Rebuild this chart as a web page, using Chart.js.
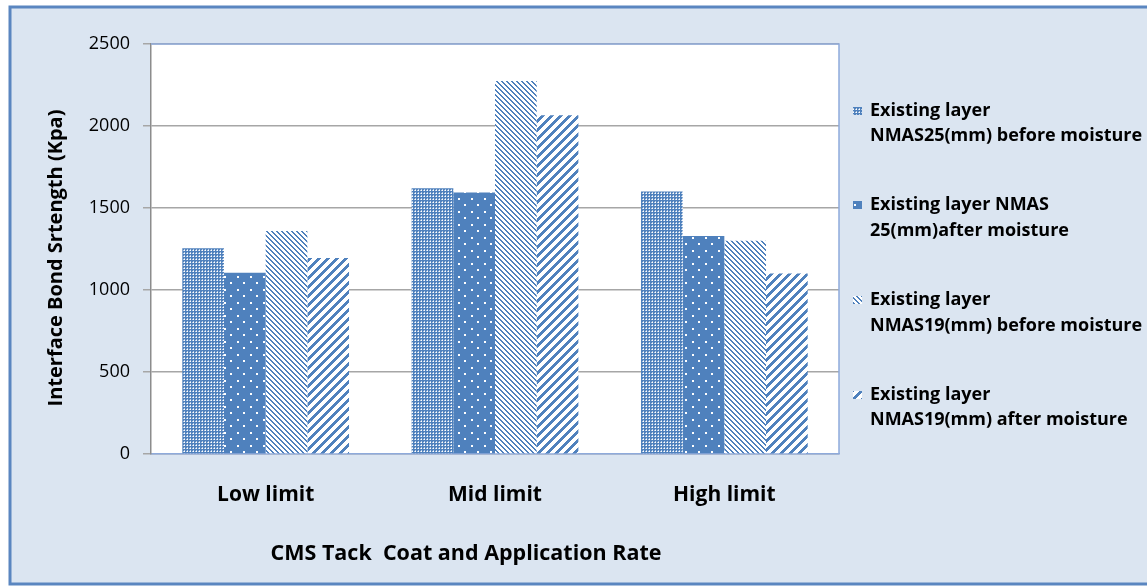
<!DOCTYPE html>
<html>
<head>
<meta charset="utf-8">
<script src="https://cdn.jsdelivr.net/npm/chart.js@4.4.0/dist/chart.umd.min.js"></script>
<style>
  html, body { margin: 0; padding: 0; background: #ffffff; }
  canvas { display: block; }
</style>
</head>
<body>
<canvas id="chart" width="1147" height="587"></canvas>
<script>
// ---- data ----
const categories = ['Low limit', 'Mid limit', 'High limit'];
const seriesNames = [
  ['Existing layer', 'NMAS25(mm) before moisture'],
  ['Existing layer NMAS', '25(mm)after moisture'],
  ['Existing layer', 'NMAS19(mm) before moisture'],
  ['Existing layer', 'NMAS19(mm) after moisture']
];
const nmas25Before = [1255, 1620, 1600];
const nmas25After  = [1105, 1595, 1330];
const nmas19Before = [1360, 2275, 1300];
const nmas19After  = [1195, 2065, 1100];
const yMin = 0, yMax = 2500, yStep = 500;
const yTitle = 'Interface Bond Srtength (Kpa)';
const xTitle = 'CMS Tack  Coat and Application Rate';

// ---- styling ----
const BLUE = '#4f81bd';
const FONT = '"Open Sans", Lato, sans-serif';

// Fill patterns for the four series
function makePattern(kind) {
  const c = document.createElement('canvas');
  const g = c.getContext('2d');
  if (kind === 'denseDots') {
    c.width = 3; c.height = 3;
    g.fillStyle = BLUE; g.fillRect(0, 0, 3, 3);
    g.fillStyle = '#ffffff';
    g.fillRect(1, 1, 1, 1);
    g.fillStyle = 'rgba(255,255,255,0.6)';
    g.fillRect(0, 1, 1, 1);
    g.fillRect(1, 0, 1, 1);
  } else if (kind === 'sparseDots') {
    c.width = 13; c.height = 13;
    g.fillStyle = BLUE; g.fillRect(0, 0, 13, 13);
    g.fillStyle = '#ffffff';
    g.fillRect(3, 3, 2, 2);
    g.fillRect(9, 9, 2, 2);
  } else if (kind === 'thinDown') {
    c.width = 5; c.height = 5;
    g.fillStyle = '#ffffff'; g.fillRect(0, 0, 5, 5);
    g.fillStyle = BLUE;
    for (let y = 0; y < 5; y++) {
      for (let k = 0; k < 2; k++) g.fillRect((y + k) % 5, y, 1, 1);
    }
  } else {
    c.width = 9; c.height = 9;
    g.fillStyle = '#ffffff'; g.fillRect(0, 0, 9, 9);
    g.fillStyle = BLUE;
    for (let y = 0; y < 9; y++) {
      for (let k = 0; k < 4; k++) g.fillRect((8 - y + k) % 9, y, 1, 1);
    }
  }
  const ctx = document.getElementById('chart').getContext('2d');
  return ctx.createPattern(c, 'repeat');
}

const fills = [
  makePattern('denseDots'),
  makePattern('sparseDots'),
  makePattern('thinDown'),
  makePattern('thickUp')
];
const seriesData = [nmas25Before, nmas25After, nmas19Before, nmas19After];

// Frame, plot background, plot border, titles and legend
const decor = {
  id: 'decor',
  beforeDraw(chart) {
    const { ctx, chartArea: a } = chart;
    ctx.save();
    ctx.fillStyle = '#ffffff';
    ctx.fillRect(0, 0, chart.width, chart.height);
    ctx.fillStyle = '#dbe5f1';
    ctx.fillRect(10, 7, chart.width, chart.height - 9);
    ctx.strokeStyle = '#5a86c0';
    ctx.lineWidth = 3;
    ctx.strokeRect(10, 7, chart.width + 10, chart.height - 10);
    ctx.fillStyle = '#ffffff';
    ctx.fillRect(a.left, a.top, a.right - a.left, a.bottom - a.top);
    ctx.restore();
  },
  afterDraw(chart) {
    const { ctx, chartArea: a } = chart;
    ctx.save();
    // plot border (top and right)
    ctx.strokeStyle = '#8eaadb';
    ctx.lineWidth = 1.5;
    ctx.beginPath();
    ctx.moveTo(a.left, a.top);
    ctx.lineTo(a.right, a.top);
    ctx.lineTo(a.right, a.bottom);
    ctx.stroke();

    ctx.fillStyle = '#000000';
    // y axis title
    ctx.save();
    ctx.translate(56, 258);
    ctx.rotate(-Math.PI / 2);
    ctx.font = 'bold 20px ' + FONT;
    ctx.textAlign = 'center';
    ctx.textBaseline = 'middle';
    ctx.fillText(yTitle, 0, 0);
    ctx.restore();

    // x axis title
    ctx.font = 'bold 21.5px ' + FONT;
    ctx.textAlign = 'center';
    ctx.textBaseline = 'middle';
    ctx.fillText(xTitle, 466, 554);

    // legend
    const rows = [[111, 136], [205, 231], [300, 326], [395, 420]];
    ctx.textAlign = 'left';
    chart.data.datasets.forEach((ds, i) => {
      const [y1, y2] = rows[i];
      ctx.fillStyle = ds.backgroundColor;
      ctx.fillRect(853, y1 - 4, 9, 8);
      ctx.fillStyle = '#000000';
      ctx.font = 'bold 18px ' + FONT;
      ctx.fillText(seriesNames[i][0], 870, y1);
      ctx.fillText(seriesNames[i][1], 870, y2);
    });
    ctx.restore();
  }
};

new Chart(document.getElementById('chart'), {
  type: 'bar',
  data: {
    labels: categories,
    datasets: seriesData.map((d, i) => ({
      label: seriesNames[i].join(' '),
      data: d,
      backgroundColor: fills[i],
      borderWidth: 0,
      barPercentage: 1.0,
      categoryPercentage: 0.727
    }))
  },
  options: {
    responsive: false,
    animation: false,
    devicePixelRatio: 1,
    layout: { padding: { left: 10, right: 308, top: 44, bottom: 0 } },
    plugins: {
      legend: { display: false },
      tooltip: { enabled: false }
    },
    scales: {
      x: {
        grid: { display: false, drawTicks: false },
        border: { display: true, color: '#8eaadb', width: 1.5 },
        ticks: {
          color: '#000000',
          font: { family: FONT, size: 21, weight: 'bold' },
          padding: 28
        },
        afterFit(scale) { scale.height = 133; }
      },
      y: {
        min: yMin,
        max: yMax,
        ticks: {
          stepSize: yStep,
          color: '#000000',
          font: { family: FONT, size: 18 },
          padding: 13,
          callback: (v) => String(v)
        },
        grid: { color: '#a6a6a6', lineWidth: 1.5, tickColor: '#a6a6a6', tickLength: 8 },
        border: { display: true, color: '#8c8c8c', width: 1.5 },
        afterFit(scale) { scale.width = 141; }
      }
    }
  },
  plugins: [decor]
});
</script>
</body>
</html>
